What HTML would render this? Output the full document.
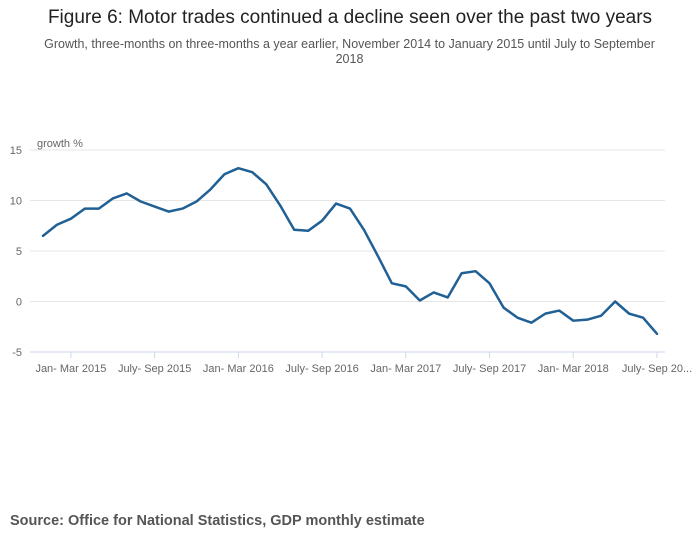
<!DOCTYPE html>
<html><head><meta charset="utf-8"><style>
body{margin:0;background:#fff;font-family:"Liberation Sans",sans-serif;}
#wrap{position:relative;width:700px;height:549px;overflow:hidden}
.t{position:absolute;left:0;width:700px;text-align:center;color:#222}
</style></head><body><div id="wrap">
<div class="t" style="top:7px;font-size:19px;color:#222">Figure 6: Motor trades continued a decline seen over the past two years</div>
<div class="t" style="top:37px;font-size:12.5px;color:#555;line-height:14.5px;left:42px;width:615px">Growth, three-months on three-months a year earlier, November 2014 to January 2015 until July to September 2018</div>
<svg id="c" width="700" height="549" style="position:absolute;left:0;top:0"></svg>
<div style="position:absolute;left:10px;top:513px;font-size:14.5px;font-weight:bold;color:#555">Source: Office for National Statistics, GDP monthly estimate</div>
</div>
<script>
const values=[6.5,7.6,8.2,9.2,9.2,10.2,10.7,9.9,9.4,8.9,9.2,9.9,11.1,12.6,13.2,12.8,11.6,9.5,7.1,7.0,8.0,9.7,9.2,7.1,4.5,1.8,1.5,0.1,0.9,0.4,2.8,3.0,1.8,-0.6,-1.6,-2.1,-1.2,-0.9,-1.9,-1.8,-1.4,0.0,-1.2,-1.6,-3.2];
const yTicks=[15,10,5,0,-5];
const xTickIdx=[2,8,14,20,26,32,38,44];
const xTickLabels=["Jan- Mar 2015","July- Sep 2015","Jan- Mar 2016","July- Sep 2016","Jan- Mar 2017","July- Sep 2017","Jan- Mar 2018","July- Sep 20..."];
const NS="http://www.w3.org/2000/svg",svg=document.getElementById('c');
const x=i=>43+i*(657-43)/44;
const y=v=>150+(15-v)*(352-150)/20;
function mk(t,a,p){const e=document.createElementNS(NS,t);for(const k in a)e.setAttribute(k,a[k]);(p||svg).appendChild(e);return e;}
yTicks.forEach(v=>{
 const l=mk('line',{x1:30,x2:665,y1:y(v),y2:y(v),stroke:v===-5?'#ccd6eb':'#e6e6e6','stroke-width':1});
 
 
 const t=mk('text',{x:22,y:y(v)+4,'text-anchor':'end','font-size':11,fill:'#666','font-family':'Liberation Sans'});
 t.textContent=v;
 
 
});
const yt=mk('text',{x:37,y:147,'font-size':11,fill:'#666','font-family':'Liberation Sans'});
yt.textContent='growth %';


xTickIdx.forEach((idx,k)=>{
 const tk=mk('line',{x1:x(idx),x2:x(idx),y1:352,y2:358,stroke:'#ccd6eb'});
 
 
 const t=mk('text',{x:x(idx),y:372,'text-anchor':'middle','font-size':11,fill:'#666','font-family':'Liberation Sans'});
 t.textContent=xTickLabels[k];
 
 
});
const p=mk('path',{d:values.map((v,i)=>(i?'L':'M')+x(i)+','+y(v)).join(''),fill:'none',stroke:'#206095','stroke-width':2.5,'stroke-linejoin':'round','stroke-linecap':'round'});


</script></body></html>
